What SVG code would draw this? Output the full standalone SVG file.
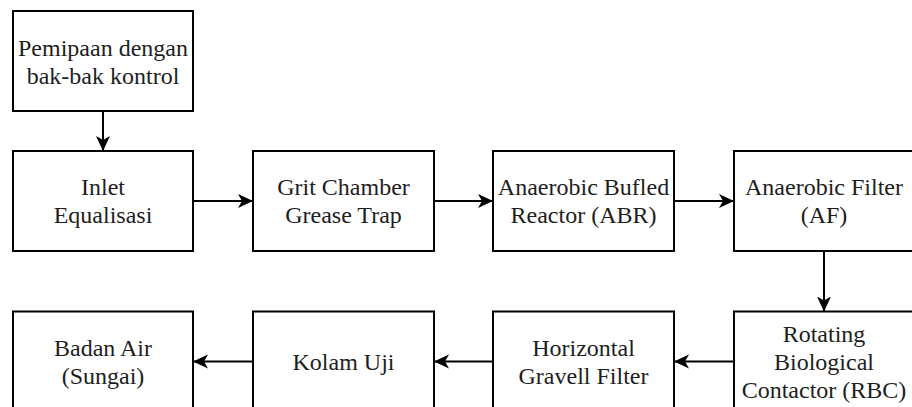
<svg xmlns="http://www.w3.org/2000/svg" width="912" height="407" viewBox="0 0 912 407">
  <style>
    .box { fill: #ffffff; stroke: #000000; stroke-width: 2; }
    .lbl { font-size: 24px; fill: #1e1e1e; text-anchor: middle; }
    .edge { fill: none; stroke: #000000; stroke-width: 2; marker-end: url(#arrow); }
  </style>
  <defs>
    <marker id="arrow" markerUnits="userSpaceOnUse" markerWidth="16" markerHeight="15" viewBox="0 0 16 15" refX="15" refY="7.5" orient="auto">
      <path d="M0,0.5 L15,7.5 L0,14.5 L4,7.5 Z" fill="#000000"/>
    </marker>
  </defs>
  <rect x="0" y="0" width="912" height="407" fill="#ffffff"/>

  <g id="connectors">
    <path class="edge" d="M103,111 L103,151"/>
    <path class="edge" d="M193,201 L253,201"/>
    <path class="edge" d="M434,201 L493,201"/>
    <path class="edge" d="M674,201 L734,201"/>
    <path class="edge" d="M824,251 L824,311.5"/>
    <path class="edge" d="M734,361.5 L674,361.5"/>
    <path class="edge" d="M493,361.5 L434,361.5"/>
    <path class="edge" d="M253,361.5 L193,361.5"/>
  </g>

  <g id="nodes" font-family="Liberation Serif">
    <g id="pemipaan">
      <rect class="box" x="13" y="11" width="180" height="100"/>
      <text class="lbl" x="103" y="55.5">Pemipaan dengan</text>
      <text class="lbl" x="103" y="84">bak-bak kontrol</text>
    </g>
    <g id="inlet">
      <rect class="box" x="13" y="151" width="180" height="100"/>
      <text class="lbl" x="103" y="195">Inlet</text>
      <text class="lbl" x="103" y="223">Equalisasi</text>
    </g>
    <g id="grit">
      <rect class="box" x="253" y="151" width="181" height="100"/>
      <text class="lbl" x="343.5" y="195">Grit Chamber</text>
      <text class="lbl" x="343.5" y="223">Grease Trap</text>
    </g>
    <g id="abr">
      <rect class="box" x="493" y="151" width="181" height="100"/>
      <text class="lbl" x="583.5" y="195">Anaerobic Bufled</text>
      <text class="lbl" x="583.5" y="223">Reactor (ABR)</text>
    </g>
    <g id="af">
      <rect class="box" x="734" y="151" width="181" height="100"/>
      <text class="lbl" x="824" y="195">Anaerobic Filter</text>
      <text class="lbl" x="824" y="223">(AF)</text>
    </g>
    <g id="rbc">
      <rect class="box" x="734" y="311.5" width="181" height="100"/>
      <text class="lbl" x="824" y="341.5">Rotating</text>
      <text class="lbl" x="824" y="369.5">Biological</text>
      <text class="lbl" x="824" y="397.5">Contactor (RBC)</text>
    </g>
    <g id="horizontal">
      <rect class="box" x="493" y="311.5" width="181" height="100"/>
      <text class="lbl" x="583.5" y="355.5">Horizontal</text>
      <text class="lbl" x="583.5" y="383.5">Gravell Filter</text>
    </g>
    <g id="kolam">
      <rect class="box" x="253" y="311.5" width="181" height="100"/>
      <text class="lbl" x="343.5" y="369.5">Kolam Uji</text>
    </g>
    <g id="badan">
      <rect class="box" x="13" y="311.5" width="180" height="100"/>
      <text class="lbl" x="103" y="355.5">Badan Air</text>
      <text class="lbl" x="103" y="383.5">(Sungai)</text>
    </g>
  </g>
</svg>
